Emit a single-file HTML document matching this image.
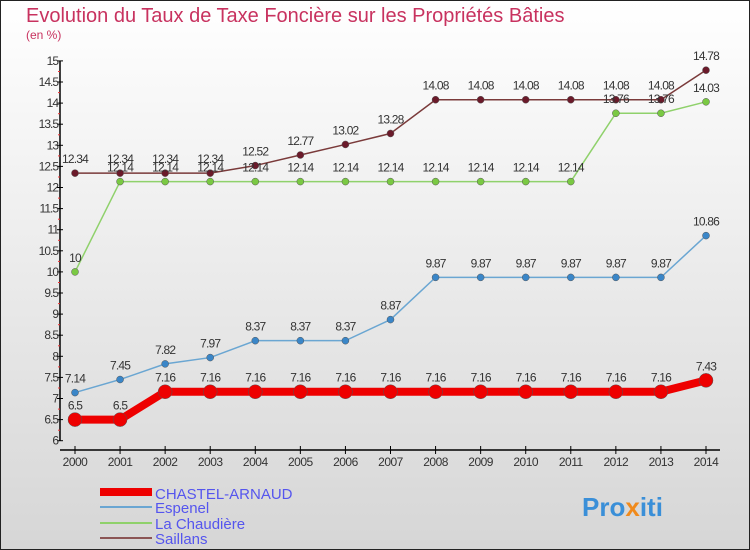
<!DOCTYPE html>
<html><head><meta charset="utf-8"><style>
body{margin:0;width:750px;height:550px;overflow:hidden}
svg{display:block;font-family:"Liberation Sans",sans-serif}
</style></head><body>
<svg id="chart" width="750" height="550">
<defs><linearGradient id="bg" x1="0" y1="0" x2="0" y2="1"><stop offset="0" stop-color="#ffffff"/><stop offset="1" stop-color="#d6d6d6"/></linearGradient></defs>
<rect x="0.5" y="0.5" width="749" height="549" fill="url(#bg)" stroke="#222"/>
<text x="26" y="22" font-size="20" fill="#c8325f">Evolution du Taux de Taxe Foncière sur les Propriétés Bâties</text>
<text x="26" y="39" font-size="12" fill="#c8325f">(en %)</text>
<g id="axes"></g><g id="series"></g>
<g>
<line x1="100" y1="492" x2="152" y2="492" stroke="#e00" stroke-width="8"/>
<text x="155" y="499" font-size="15" fill="#5555ee">CHASTEL-ARNAUD</text>
<line x1="100" y1="507" x2="152" y2="507" stroke="#6aa6d2" stroke-width="2"/>
<text x="155" y="513" font-size="15" fill="#5555ee">Espenel</text>
<line x1="100" y1="523" x2="152" y2="523" stroke="#8fd16b" stroke-width="2"/>
<text x="155" y="529" font-size="15" fill="#5555ee">La Chaudière</text>
<line x1="100" y1="538" x2="152" y2="538" stroke="#8b5555" stroke-width="2"/>
<text x="155" y="544" font-size="15" fill="#5555ee">Saillans</text>
</g>
<text x="582" y="516" font-size="26" font-weight="bold" fill="#3a8fd8">Pro<tspan fill="#f08a1c">x</tspan>iti</text>
</svg>
<script>
const years=[2000,2001,2002,2003,2004,2005,2006,2007,2008,2009,2010,2011,2012,2013,2014];
const yTicks=[6,6.5,7,7.5,8,8.5,9,9.5,10,10.5,11,11.5,12,12.5,13,13.5,14,14.5,15];
const chastel=[6.5,6.5,7.16,7.16,7.16,7.16,7.16,7.16,7.16,7.16,7.16,7.16,7.16,7.16,7.43];
const espenel=[7.14,7.45,7.82,7.97,8.37,8.37,8.37,8.87,9.87,9.87,9.87,9.87,9.87,9.87,10.86];
const chaudiere=[10,12.14,12.14,12.14,12.14,12.14,12.14,12.14,12.14,12.14,12.14,12.14,13.76,13.76,14.03];
const saillans=[12.34,12.34,12.34,12.34,12.52,12.77,13.02,13.28,14.08,14.08,14.08,14.08,14.08,14.08,14.78];
const NS="http://www.w3.org/2000/svg";
const X=i=>75+i*(706-75)/(years.length-1);
const Y=v=>440.7-(v-6)*42.2;
function mk(t,a,p){const e=document.createElementNS(NS,t);for(const k in a)e.setAttribute(k,a[k]);p.appendChild(e);return e;}
const ax=document.getElementById('axes');
let l=mk('line',{x1:60,y1:Y(15),x2:60,y2:Y(6),stroke:'#000','stroke-width':1.5},ax);


l=mk('line',{x1:60,y1:450,x2:720,y2:450,stroke:'#000','stroke-width':1.5},ax);


yTicks.forEach((v,k)=>{
 const t=mk('line',{x1:57,y1:Y(v),x2:63,y2:Y(v),stroke:'#000'},ax);
 
 
 if(k<yTicks.length-1){
  const m=mk('line',{x1:58,y1:Y(v)-10.5,x2:60,y2:Y(v)-10.5,stroke:'#e33'},ax);
  
  
 }
 const tx=mk('text',{x:58,y:Y(v)+4,'text-anchor':'end','font-size':12,fill:'#333','letter-spacing':'-1'},ax);
 tx.textContent=String(v);
 
 
});
years.forEach((yr,i)=>{
 const t=mk('line',{x1:X(i),y1:446,x2:X(i),y2:454,stroke:'#000'},ax);
 
 
 const tx=mk('text',{x:X(i),y:466,'text-anchor':'middle','font-size':12,fill:'#333','letter-spacing':'-0.5'},ax);
 tx.textContent=yr;
 
 
});
const sg=document.getElementById('series');
function series(vals,name,color,w,r,dot){
 const g=mk('g',{},sg);
 
 
 const p=mk('polyline',{points:vals.map((v,i)=>X(i)+','+Y(v)).join(' '),fill:'none',stroke:color,'stroke-width':w},g);
 
 
 vals.forEach((v,i)=>{
  const c=mk('circle',{cx:X(i),cy:Y(v),r:r,fill:dot,stroke:'#555','stroke-width':0.5},g);
  
  
  const t=mk('text',{x:X(i),y:Y(v)-10,'text-anchor':'middle','font-size':12,fill:'#333','letter-spacing':'-0.8'},g);
  t.textContent=String(v);
  
  
 });
}
series(saillans,'saillans','#7a3a3a',1.5,3.5,'#6b1a2a');
series(chaudiere,'la-chaudiere','#8fd16b',1.5,3.5,'#7ac943');
series(espenel,'espenel','#6aa6d2',1.5,3.5,'#3a86c8');
series(chastel,'chastel-arnaud','#e00',8,7,'#e00');
</script>
</body></html>
